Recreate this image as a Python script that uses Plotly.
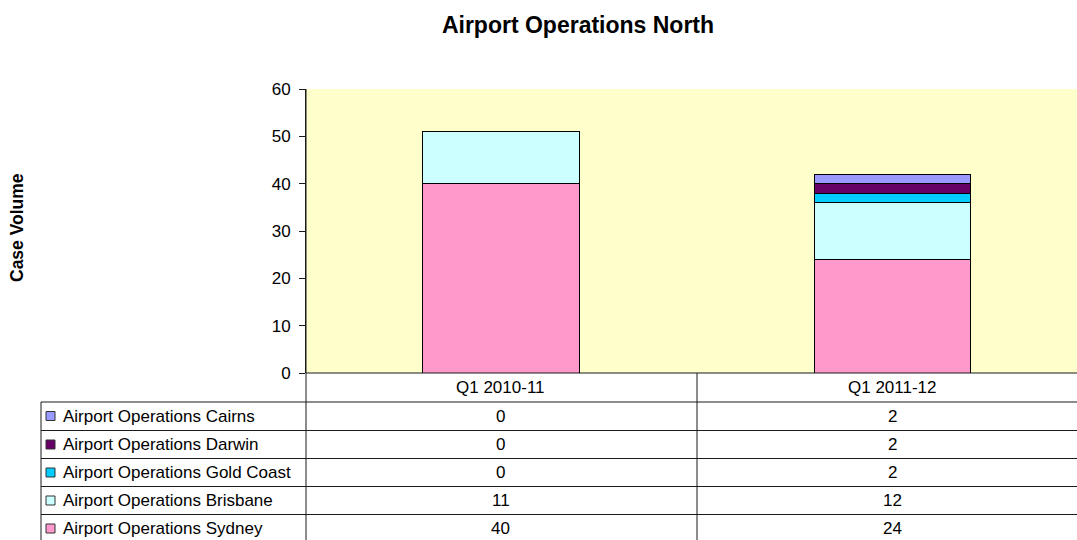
import plotly.graph_objects as go

categories = ["Q1 2010-11", "Q1 2011-12"]
series_names = [
    "Airport Operations Sydney",
    "Airport Operations Brisbane",
    "Airport Operations Gold Coast",
    "Airport Operations Darwin",
    "Airport Operations Cairns",
]
sydney = [40, 24]
brisbane = [11, 12]
gold_coast = [0, 2]
darwin = [0, 2]
cairns = [0, 2]
colors = ["#FF99CC", "#CCFFFF", "#00CCFF", "#660066", "#9999FF"]
yticks = [0, 10, 20, 30, 40, 50, 60]

values = [sydney, brisbane, gold_coast, darwin, cairns]

W, H = 1077, 540
L, R, T, B = 306, 1077, 89, 373
FONT = "Liberation Sans, Arial, sans-serif"


def px(x):
    return (x - L) / (R - L)


def py(y):
    return (B - y) / (B - T)


fig = go.Figure()
for name, vals, col in zip(series_names, values, colors):
    fig.add_trace(go.Bar(
        x=categories, y=vals, name=name, width=0.4,
        marker=dict(color=col, line=dict(color="#000000", width=1)),
        showlegend=False, hoverinfo="skip",
    ))

shapes = []
annotations = []
line_col = "#1a1a1a"

shapes.append(dict(type="line", xref="paper", yref="paper", x0=px(306), x1=px(1085),
                   y0=py(373), y1=py(373), line=dict(color=line_col, width=1)))
row_edges = [402, 430.5, 458.5, 486.5, 514.5]
for ye in row_edges:
    shapes.append(dict(type="line", xref="paper", yref="paper", x0=px(41), x1=px(1085),
                       y0=py(ye), y1=py(ye), line=dict(color=line_col, width=1)))
shapes.append(dict(type="line", xref="paper", yref="paper", x0=px(41), x1=px(41),
                   y0=py(402), y1=py(560), line=dict(color=line_col, width=1)))
shapes.append(dict(type="line", xref="paper", yref="paper", x0=px(306), x1=px(306),
                   y0=py(89), y1=py(560), line=dict(color=line_col, width=1)))
shapes.append(dict(type="line", xref="paper", yref="paper", x0=px(697), x1=px(697),
                   y0=py(373), y1=py(560), line=dict(color=line_col, width=1)))

col_centers = [500.8, 892.5]
for cat, cx in zip(categories, col_centers):
    annotations.append(dict(text=cat, xref="paper", yref="paper", x=px(cx), y=py(387.5),
                            xanchor="center", yanchor="middle", showarrow=False,
                            font=dict(size=17, color="#000000", family=FONT)))

row_centers = [416, 444.5, 472.5, 500.5, 528.5]
order = [4, 3, 2, 1, 0]  # Cairns, Darwin, Gold Coast, Brisbane, Sydney
for rc, idx in zip(row_centers, order):
    shapes.append(dict(type="rect", xref="paper", yref="paper",
                       x0=px(46), x1=px(55), y0=py(rc - 4.5), y1=py(rc + 4.5),
                       fillcolor=colors[idx], line=dict(color="#333333", width=1)))
    annotations.append(dict(text=series_names[idx], xref="paper", yref="paper",
                            x=px(61), y=py(rc), xanchor="left", yanchor="middle",
                            showarrow=False,
                            font=dict(size=17, color="#000000", family=FONT)))
    for v, cx in zip(values[idx], col_centers):
        annotations.append(dict(text=str(v), xref="paper", yref="paper",
                                x=px(cx), y=py(rc), xanchor="center", yanchor="middle",
                                showarrow=False,
                                font=dict(size=17, color="#000000", family=FONT)))

annotations.append(dict(text="<b>Case Volume</b>", xref="paper", yref="paper",
                        x=px(17), y=py(228), xanchor="center", yanchor="middle",
                        textangle=-90, showarrow=False,
                        font=dict(size=17.5, color="#000000", family=FONT)))

fig.update_layout(
    width=W, height=H,
    margin=dict(l=L, r=W - R, t=T, b=H - B, pad=0),
    barmode="stack",
    paper_bgcolor="#FFFFFF",
    plot_bgcolor="#FFFFCC",
    title=dict(text="<b>Airport Operations North</b>", x=578 / W, xref="container",
               y=1 - 25 / H, yref="container", xanchor="center", yanchor="middle",
               font=dict(size=23, color="#000000", family=FONT)),
    font=dict(family=FONT, color="#000000"),
    xaxis=dict(type="category", range=[-0.497, 1.471], showticklabels=False,
               showgrid=False, zeroline=False, showline=False, ticks=""),
    yaxis=dict(range=[0, 60], tickvals=yticks, showgrid=False, zeroline=False,
               showline=True, linecolor=line_col, linewidth=1,
               ticks="outside", ticklen=6, tickcolor=line_col,
               ticklabelstandoff=5,
               tickfont=dict(size=17, color="#000000", family=FONT)),
    shapes=shapes,
    annotations=annotations,
    bargap=0,
    hovermode=False,
)

fig.write_html(
    "out.html",
    config={"displayModeBar": False, "staticPlot": True},
    post_script="document.body.style.margin='0';document.body.style.overflow='hidden';",
)
